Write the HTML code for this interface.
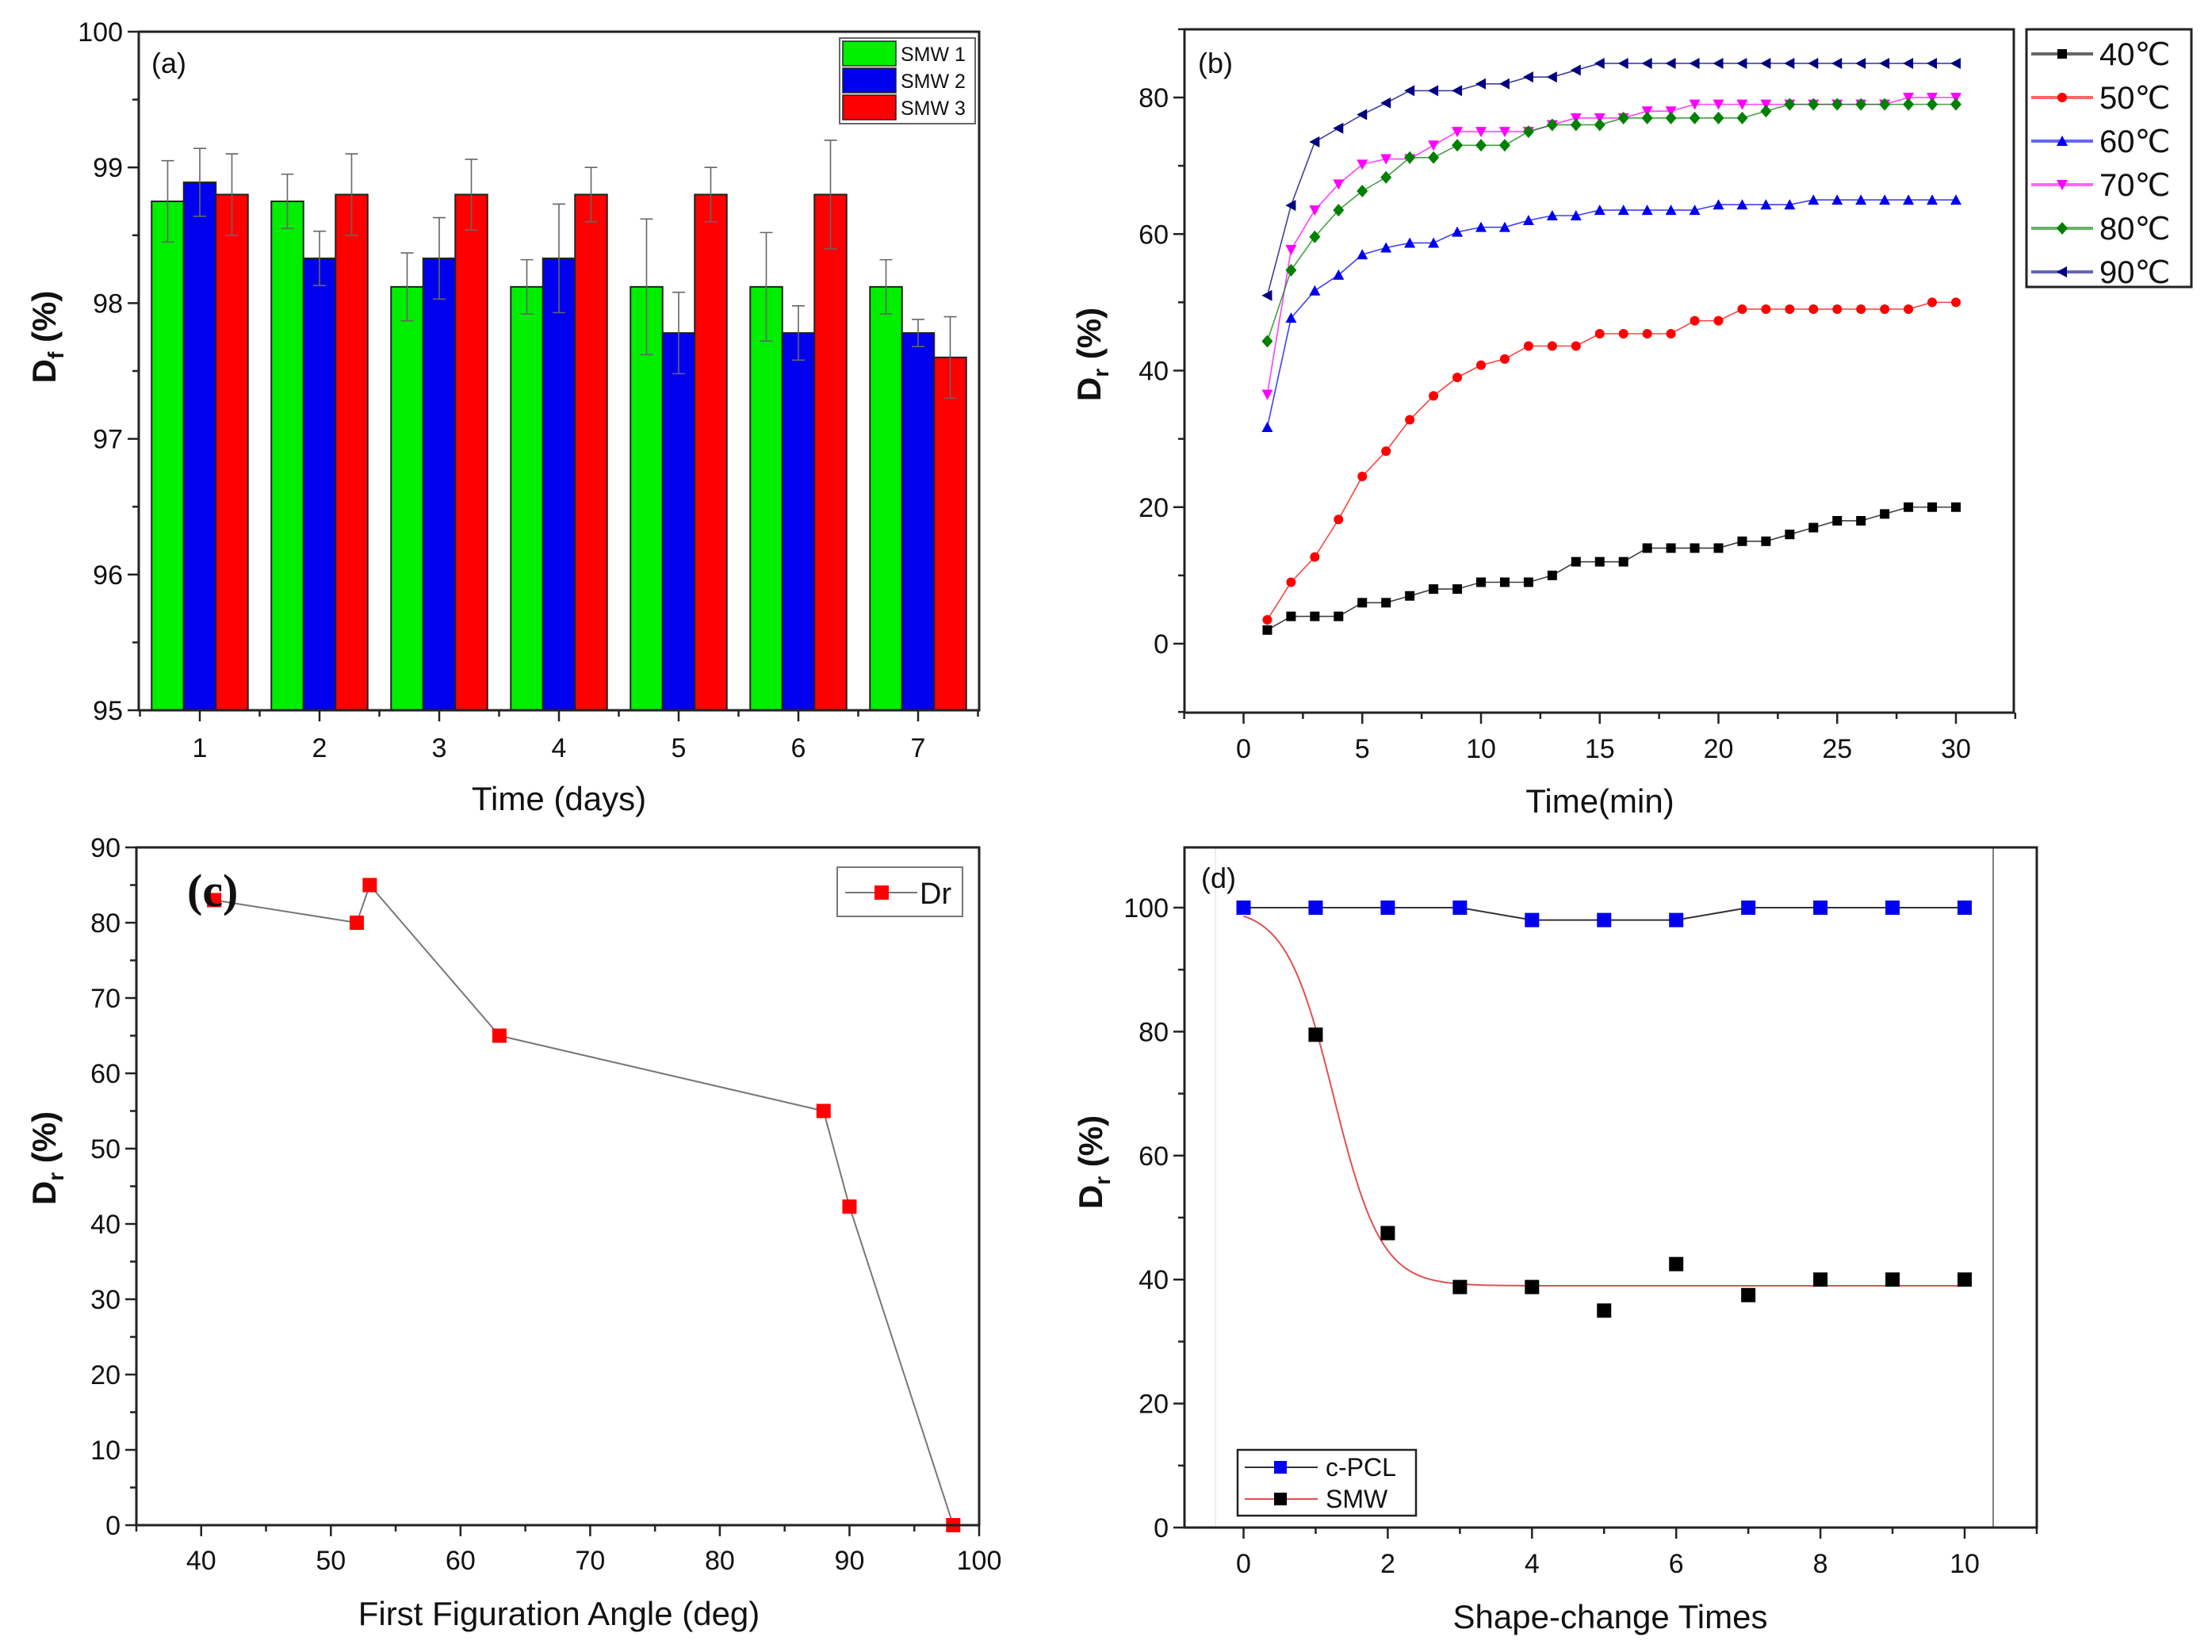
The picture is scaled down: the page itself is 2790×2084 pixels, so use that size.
<!DOCTYPE html>
<html><head><meta charset="utf-8">
<style>
html,body{margin:0;padding:0;background:#fff;}
svg{display:block;font-family:"Liberation Sans",Arial,sans-serif;}
</style></head>
<body>
<svg id="fig" width="2790" height="2084" viewBox="0 0 2790 2084" xmlns="http://www.w3.org/2000/svg"></svg>
<script>
// ---------- Panel (a) data ----------
const aDays = [1,2,3,4,5,6,7];
const aSMW1 = [98.75,98.75,98.12,98.12,98.12,98.12,98.12];
const aSMW2 = [98.89,98.33,98.33,98.33,97.78,97.78,97.78];
const aSMW3 = [98.8,98.8,98.8,98.8,98.8,98.8,97.6];
const aErr1 = [0.3,0.2,0.25,0.2,0.5,0.4,0.2];
const aErr2 = [0.25,0.2,0.3,0.4,0.3,0.2,0.1];
const aErr3 = [0.3,0.3,0.26,0.2,0.2,0.4,0.3];
const aYTicks = [95,96,97,98,99,100];
// ---------- Panel (b) data ----------
const bTime = [1,2,3,4,5,6,7,8,9,10,11,12,13,14,15,16,17,18,19,20,21,22,23,24,25,26,27,28,29,30];
const b40 = [2,4,4,4,6,6,7,8,8,9,9,9,10,12,12,12,14,14,14,14,15,15,16,17,18,18,19,20,20,20];
const b50 = [3.5,9,12.7,18.2,24.5,28.2,32.8,36.3,39,40.8,41.7,43.6,43.6,43.6,45.4,45.4,45.4,45.4,47.3,47.3,49,49,49,49,49,49,49,49,50,50];
const b60 = [31.7,47.7,51.7,54,57,58,58.7,58.7,60.3,61,61,62,62.7,62.7,63.5,63.5,63.5,63.5,63.5,64.3,64.3,64.3,64.3,65,65,65,65,65,65,65];
const b70 = [36.5,57.7,63.5,67.3,70.2,71,71,73,75,75,75,75,76,77,77,77,78,78,79,79,79,79,79,79,79,79,79,80,80,80];
const b80 = [44.3,54.7,59.6,63.5,66.3,68.3,71.2,71.2,73,73,73,75,76,76,76,77,77,77,77,77,77,78,79,79,79,79,79,79,79,79];
const b90 = [51,64.2,73.5,75.5,77.5,79.2,81,81,81,82,82,83,83,84,85,85,85,85,85,85,85,85,85,85,85,85,85,85,85,85];
const bLabels = ["40℃","50℃","60℃","70℃","80℃","90℃"];
const bXTicks = [0,5,10,15,20,25,30];
const bYTicks = [0,20,40,60,80];
// ---------- Panel (c) data ----------
const cAngle = [41,52,53,63,88,90,98];
const cDr = [83,80,85,65,55,42.3,0];
const cXTicks = [40,50,60,70,80,90,100];
const cYTicks = [0,10,20,30,40,50,60,70,80,90];
// ---------- Panel (d) data ----------
const dTimes = [0,1,2,3,4,5,6,7,8,9,10];
const dPCL = [100,100,100,100,98,98,98,100,100,100,100];
const dSMW = [100,79.5,47.5,38.8,38.8,35,42.5,37.5,40,40,40];
const dFit = [100,39,1.25,0.33]; // Boltzmann A1, A2, x0, dx
const dXTicks = [0,2,4,6,8,10];
const dYTicks = [0,20,40,60,80,100];

const NS="http://www.w3.org/2000/svg";
const svg=document.getElementById('fig');
function mk(tag,attrs,parent){const e=document.createElementNS(NS,tag);for(const k in attrs)e.setAttribute(k,attrs[k]);(parent||svg).appendChild(e);return e;}
function txt(s,x,y,size,anchor,parent,extra){const t=mk('text',Object.assign({x:x,y:y,'font-size':size,'text-anchor':anchor||'middle',fill:'#111'},extra||{}),parent);t.textContent=s;return t;}
function scale(d0,d1,r0,r1){return v=>r0+(v-d0)/(d1-d0)*(r1-r0);}

function axes(g,L,R,T,B,sx,sy,xt,yt,xminor,yminor,xTickY,boxColor){
  mk('rect',{x:L,y:T,width:R-L,height:B-T,fill:'none',stroke:boxColor||'#222','stroke-width':3},g);
  xminor.forEach(v=>{const x=sx(v);mk('line',{x1:x,y1:B,x2:x,y2:B+8,stroke:'#222','stroke-width':2.5},g);});
  yminor.forEach(v=>{const y=sy(v);mk('line',{x1:L,y1:y,x2:L-8,y2:y,stroke:'#222','stroke-width':2.5},g);});
  xt.forEach(v=>{const x=sx(v);mk('line',{x1:x,y1:B,x2:x,y2:B+14,stroke:'#222','stroke-width':2.5},g);
    const t=txt(String(v),x,xTickY,34,'middle',g);
    
    });
  yt.forEach(v=>{const y=sy(v);mk('line',{x1:L,y1:y,x2:L-14,y2:y,stroke:'#222','stroke-width':2.5},g);
    const t=txt(String(v),L-20,y+12,34,'end',g);
    
    });
}
function range(a,b,s){const r=[];for(let v=a;v<=b+1e-9;v+=s)r.push(+v.toFixed(4));return r;}

// ================= Panel (a) =================
(function(){
const g=mk('g',{});


const L=175,R=1235,T=40,B=896;
const sx=scale(1,7,252,1158), sy=scale(95,100,B,T);
const bw=40.5;
const series=[[aSMW1,aErr1,'#00ee00','bar-smw1'],[aSMW2,aErr2,'#0000ee','bar-smw2'],[aSMW3,aErr3,'#ff0000','bar-smw3']];
series.forEach((s,si)=>{
  aDays.forEach((d,i)=>{
    const cx=sx(d)+(si-1)*bw;
    const r=mk('rect',{x:cx-bw/2,y:sy(s[0][i]),width:bw,height:B-sy(s[0][i]),fill:s[2],stroke:'#222','stroke-width':2},g);
    
    
    const yt=sy(s[0][i]+s[1][i]), yb=sy(s[0][i]-s[1][i]);
    const eb=mk('path',{d:`M${cx},${yb}V${yt}M${cx-8},${yt}H${cx+8}M${cx-8},${yb}H${cx+8}`,stroke:'#666','stroke-width':1.6,fill:'none'},g);
    
    
  });
});
axes(g,L,R,T,B,sx,sy,aDays,aYTicks,range(0.5,7.5,1),range(95.5,99.5,1),955);
const pl=txt('(a)',191,92,36,'start',g);  
const xl=txt('Time (days)',705,1022,42,'middle',g);  
const yl=mk('text',{transform:'translate(70,425) rotate(-90)','font-size':42,'text-anchor':'middle','font-weight':'bold',fill:'#111'},g);
yl.innerHTML='D<tspan font-size="28" dy="10">f</tspan><tspan dy="-10"> (%)</tspan>';
 
const lg=mk('g',{},g);  
mk('rect',{x:1059,y:48,width:171,height:108,fill:'#fff',stroke:'#666','stroke-width':2},lg);
[['SMW 1','#00ee00'],['SMW 2','#0000ee'],['SMW 3','#ff0000']].forEach((e,i)=>{
  const y=52+i*34;
  const ge=mk('g',{},lg);  
  mk('rect',{x:1063,y:y,width:67,height:31,fill:e[1],stroke:'#222','stroke-width':1.5},ge);
  txt(e[0],1136,y+25,25,'start',ge);
});
})();

// ================= Panel (b) =================
(function(){
const g=mk('g',{});


const L=1494,R=2540,T=37,B=899;
const sx=scale(0,30,1568.5,2467), sy=scale(0,80,812,123);
const series=[b40,b50,b60,b70,b80,b90];
const colors=['#000000','#ff0000','#0000ee','#ff00ff','#008000','#000080'];
const shapes=['sq','ci','tu','td','di','tl'];
function marker(shape,x,y,c,p){
  const s=7;
  let e;
  if(shape==='sq')e=mk('rect',{x:x-s+1,y:y-s+1,width:2*s-2,height:2*s-2,fill:c},p);
  else if(shape==='ci')e=mk('circle',{cx:x,cy:y,r:s-1,fill:c},p);
  else if(shape==='tu')e=mk('polygon',{points:`${x},${y-s} ${x+s},${y+s-1} ${x-s},${y+s-1}`,fill:c},p);
  else if(shape==='td')e=mk('polygon',{points:`${x},${y+s} ${x+s},${y-s+1} ${x-s},${y-s+1}`,fill:c},p);
  else if(shape==='di')e=mk('polygon',{points:`${x},${y-s-1} ${x+s},${y} ${x},${y+s+1} ${x-s},${y}`,fill:c},p);
  else e=mk('polygon',{points:`${x-s},${y} ${x+s-1},${y-s} ${x+s-1},${y+s}`,fill:c},p);
  return e;
}
series.forEach((ys,si)=>{
  const sg=mk('g',{},g);
  
  
  const d=bTime.map((t,i)=>(i?'L':'M')+sx(t)+','+sy(ys[i])).join('');
  mk('path',{d:d,fill:'none',stroke:colors[si],'stroke-width':1.6,'stroke-opacity':0.75},sg);
  bTime.forEach((t,i)=>{const m=marker(shapes[si],sx(t),sy(ys[i]),colors[si],sg);
    
    });
});
axes(g,L,R,T,B,sx,sy,bXTicks,bYTicks,range(-2.5,32.5,2.5).filter(v=>v%5!==0),range(-10,90,10).filter(v=>v%20!==0),956);
const pl=txt('(b)',1511,92,36,'start',g);  
const xl=txt('Time(min)',2018,1025,42,'middle',g);  
const yl=mk('text',{transform:'translate(1388,447) rotate(-90)','font-size':42,'text-anchor':'middle','font-weight':'bold',fill:'#111'},g);
yl.innerHTML='D<tspan font-size="28" dy="10">r</tspan><tspan dy="-10"> (%)</tspan>';
 
const lg=mk('g',{},g);  
mk('rect',{x:2556,y:37,width:208,height:325,fill:'#fff',stroke:'#222','stroke-width':3},lg);
bLabels.forEach((lab,i)=>{
  const y=68+i*55;
  const ge=mk('g',{},lg);  
  mk('line',{x1:2562,y1:y,x2:2640,y2:y,stroke:colors[i],'stroke-width':4,'stroke-opacity':0.6},ge);
  marker(shapes[i],2601,y,colors[i],ge);
  txt(lab,2648,y+14,40,'start',ge);
});
})();

// ================= Panel (c) =================
(function(){
const g=mk('g',{});


const L=172,R=1235,T=1069,B=1924;
const sx=scale(35,100,L,R), sy=scale(0,90,B,T);
const d=cAngle.map((a,i)=>(i?'L':'M')+sx(a)+','+sy(cDr[i])).join('');
const ln=mk('path',{d:d,fill:'none',stroke:'#777','stroke-width':2},g);
 
cAngle.forEach((a,i)=>{const m=mk('rect',{x:sx(a)-9,y:sy(cDr[i])-9,width:18,height:18,fill:'#ff0000'},g);
   });
axes(g,L,R,T,B,sx,sy,cXTicks,cYTicks,range(35,95,10),range(5,85,10),1980);
const pl=txt('(c)',236,1143,58,'start',g,{'font-family':'"Liberation Serif",serif','font-weight':'bold'});  
const xl=txt('First Figuration Angle (deg)',705,2050,42,'middle',g);  
const yl=mk('text',{transform:'translate(70,1461) rotate(-90)','font-size':42,'text-anchor':'middle','font-weight':'bold',fill:'#111'},g);
yl.innerHTML='D<tspan font-size="28" dy="10">r</tspan><tspan dy="-10"> (%)</tspan>';
 
const lg=mk('g',{},g);  
mk('rect',{x:1056,y:1094,width:158,height:62,fill:'#fff',stroke:'#777','stroke-width':2},lg);
mk('line',{x1:1066,y1:1126,x2:1157,y2:1126,stroke:'#777','stroke-width':2},lg);
mk('rect',{x:1103,y:1117,width:18,height:18,fill:'#ff0000'},lg);
txt('Dr',1160,1140,38,'start',lg);
})();

// ================= Panel (d) =================
(function(){
const g=mk('g',{});


const L=1494,R=2569,T=1069,B=1927;
const sx=scale(0,10,1568.5,2478), sy=scale(0,100,B,1145);
mk('line',{x1:2514,y1:T,x2:2514,y2:B,stroke:'#555','stroke-width':1.5},g);
mk('line',{x1:1533,y1:T,x2:1533,y2:B,stroke:'#ddd','stroke-width':1},g);
const d1=dTimes.map((t,i)=>(i?'L':'M')+sx(t)+','+sy(dPCL[i])).join('');
const l1=mk('path',{d:d1,fill:'none',stroke:'#333','stroke-width':2},g);
 
let fd='';
for(let k=0;k<=200;k++){const x=k/20;const y=dFit[1]+(dFit[0]-dFit[1])/(1+Math.exp((x-dFit[2])/dFit[3]));fd+=(k?'L':'M')+sx(x)+','+sy(y);}
const l2=mk('path',{d:fd,fill:'none',stroke:'#e05050','stroke-width':2},g);
 
dTimes.forEach((t,i)=>{const m=mk('rect',{x:sx(t)-9,y:sy(dSMW[i])-9,width:18,height:18,fill:'#000'},g);
   });
dTimes.forEach((t,i)=>{const m=mk('rect',{x:sx(t)-9,y:sy(dPCL[i])-9,width:18,height:18,fill:'#0000ee'},g);
   });
axes(g,L,R,T,B,sx,sy,dXTicks,dYTicks,range(1,11,2),range(10,110,20).filter(v=>v<=100),1984);
const pl=txt('(d)',1515,1120,36,'start',g);  
const xl=txt('Shape-change Times',2031,2054,42,'middle',g);  
const yl=mk('text',{transform:'translate(1390,1466) rotate(-90)','font-size':42,'text-anchor':'middle','font-weight':'bold',fill:'#111'},g);
yl.innerHTML='D<tspan font-size="28" dy="10">r</tspan><tspan dy="-10"> (%)</tspan>';
 
const lg=mk('g',{},g);  
mk('rect',{x:1561,y:1829,width:225,height:83,fill:'#fff',stroke:'#222','stroke-width':2.5},lg);
[['c-PCL','#333','#0000ee'],['SMW','#e05050','#000']].forEach((e,i)=>{
  const y=1851+i*40;
  const ge=mk('g',{},lg);  
  mk('line',{x1:1570,y1:y,x2:1662,y2:y,stroke:e[1],'stroke-width':2},ge);
  mk('rect',{x:1607,y:y-8,width:16,height:16,fill:e[2]},ge);
  txt(e[0],1672,y+11,32,'start',ge);
});
})();
</script>
</body></html>
